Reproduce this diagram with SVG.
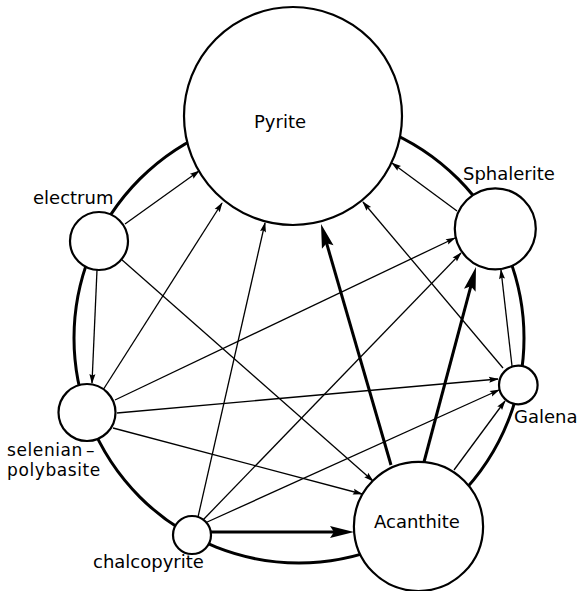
<svg xmlns="http://www.w3.org/2000/svg" width="584" height="591" viewBox="0 0 584 591">
<style>
.ring{fill:none;stroke:#000;stroke-width:3}
.thin{fill:none;stroke:#000;stroke-width:1.3;marker-end:url(#a)}
.thick{fill:none;stroke:#000;stroke-width:3;marker-end:url(#A)}
.node{fill:#fff;stroke:#000;stroke-width:2.2}
text{font-family:"DejaVu Sans","Liberation Sans",sans-serif;font-size:18px;fill:#000}
.sm{font-size:17px;letter-spacing:0.6px}
</style>
<defs>
<marker id="a" markerUnits="userSpaceOnUse" markerWidth="10" markerHeight="6" refX="9" refY="3" orient="auto" overflow="visible"><path d="M0,0 L10,3 L0,6 L1.5,3 z" fill="#000"/></marker>
<marker id="A" markerUnits="userSpaceOnUse" markerWidth="24" markerHeight="12" refX="14" refY="6" orient="auto" overflow="visible"><path d="M0,0 L24,6 L0,12 L4,6 z" fill="#000"/></marker>
</defs>
<rect width="584" height="591" fill="#fff"/>
<g id="connectors">
<circle class="ring" cx="299" cy="338" r="225"/>
<line class="thin" x1="125" y1="224" x2="199" y2="171"/>
<line class="thin" x1="97" y1="270" x2="92" y2="383"/>
<line class="thin" x1="121" y1="259" x2="373" y2="481"/>
<line class="thin" x1="113" y1="428" x2="362" y2="494"/>
<line class="thin" x1="103" y1="390" x2="222" y2="203"/>
<line class="thin" x1="198" y1="517" x2="265" y2="223"/>
<line class="thin" x1="115" y1="400" x2="455" y2="238"/>
<line class="thin" x1="117" y1="413" x2="498" y2="379"/>
<line class="thin" x1="205" y1="523" x2="499" y2="390"/>
<line class="thin" x1="203" y1="520" x2="461" y2="253"/>
<line class="thin" x1="454" y1="470" x2="505" y2="401"/>
<line class="thin" x1="503" y1="368" x2="363" y2="202"/>
<line class="thin" x1="457" y1="211" x2="392" y2="163"/>
<line class="thin" x1="512" y1="366" x2="501" y2="270"/>
<line class="thick" x1="211" y1="532" x2="344" y2="532"/>
<line class="thick" x1="391" y1="465" x2="323.8" y2="233.6"/>
<line class="thick" x1="424" y1="462" x2="473.4" y2="276.7"/>
</g>
<g id="pyrite"><circle class="node" cx="293" cy="116" r="109"/><text x="254" y="128">Pyrite</text></g>
<g id="electrum"><circle class="node" cx="99" cy="241" r="29"/><text x="33" y="204">electrum</text></g>
<g id="sphalerite"><circle class="node" cx="495.3" cy="228.8" r="40.5"/><text x="463" y="180">Sphalerite</text></g>
<g id="selenian-polybasite"><circle class="node" cx="87" cy="412.5" r="28.5"/><text class="sm" x="7" y="456">selenian<tspan dx="3">–</tspan><tspan x="7" dy="20">polybasite</tspan></text></g>
<g id="chalcopyrite"><circle class="node" cx="192" cy="535" r="19"/><text x="93" y="568">chalcopyrite</text></g>
<g id="acanthite"><circle class="node" cx="418.5" cy="526.4" r="64.6"/><text x="374" y="528">Acanthite</text></g>
<g id="galena"><circle class="node" cx="518.3" cy="385" r="19.3"/><text x="514" y="423">Galena</text></g>
</svg>
